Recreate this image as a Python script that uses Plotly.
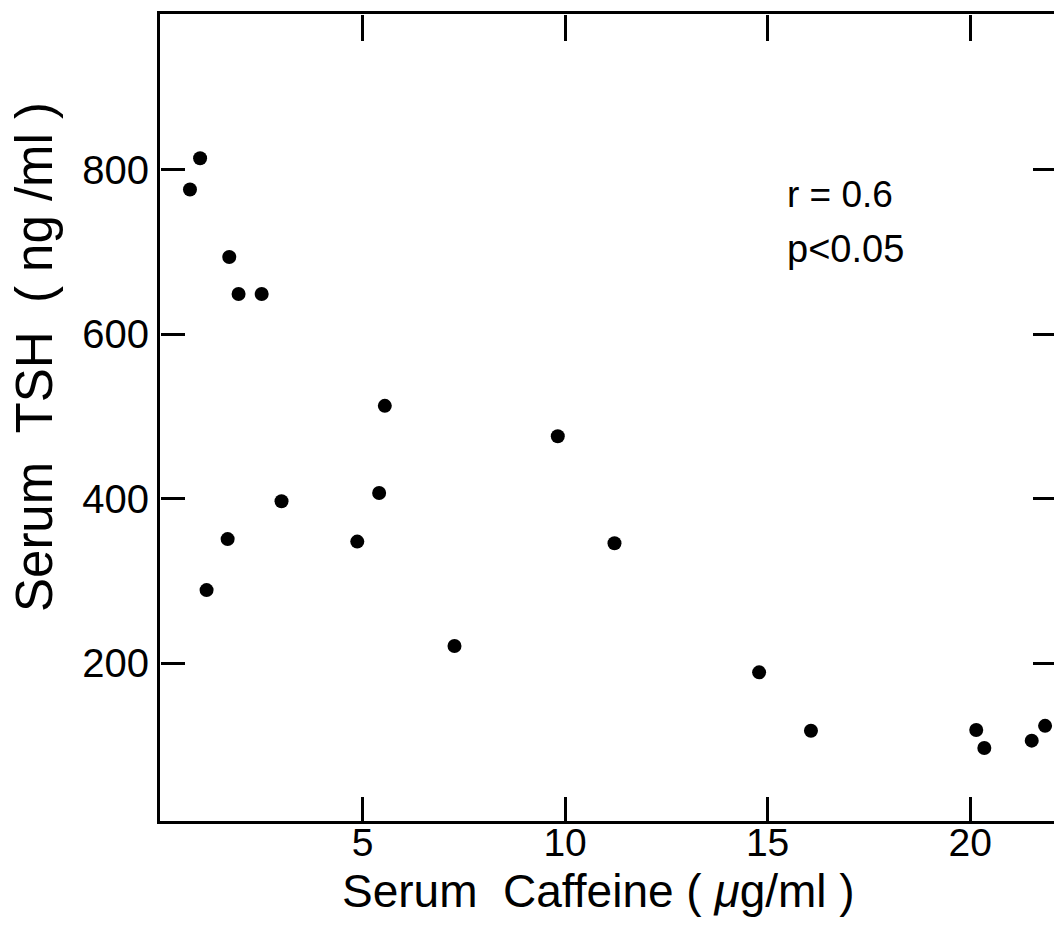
import plotly.graph_objects as go

# Serum caffeine (µg/ml) vs serum TSH (ng/ml)
caffeine = [0.74, 0.99, 1.71, 1.94, 2.51, 1.67, 1.15, 3.00, 4.87, 5.41,
            5.55, 7.27, 9.82, 11.22, 14.79, 16.07, 20.15, 20.35, 21.52, 21.85]
tsh = [776, 814, 694, 649, 649, 351, 289, 397, 348, 407,
       513, 221, 476, 346, 189, 118, 119, 97, 106, 124]

x_ticks = [5, 10, 15, 20]
y_ticks = [200, 400, 600, 800]
x_range = [0, 22.07]
y_range = [8.3, 989.4]

FONT = "Liberation Sans"
NB = "\u00a0"

fig = go.Figure()
fig.add_trace(go.Scatter(
    x=caffeine, y=tsh, mode="markers",
    marker=dict(size=14, color="#000000", line=dict(width=0)),
    showlegend=False, hoverinfo="x+y",
))
# empty traces that bring the tick-only frame axes into the subplot
for xa, ya in [("x2", "y"), ("x3", "y"), ("x", "y2"), ("x", "y3")]:
    fig.add_trace(go.Scatter(x=[], y=[], xaxis=xa, yaxis=ya, mode="markers",
                             showlegend=False, hoverinfo="skip"))

frame = dict(showgrid=False, zeroline=False, showline=True,
             linecolor="#000000", linewidth=3, mirror=True, ticks="",
             automargin=False, tickmode="array")
tick_axis = dict(showgrid=False, zeroline=False, showline=False,
                 showticklabels=False, ticks="outside", tickwidth=3,
                 tickcolor="#000000", anchor="free", automargin=False,
                 tickmode="array")

fig.update_layout(
    width=1054, height=942,
    margin=dict(l=160, r=0, t=14, b=121, autoexpand=False),
    paper_bgcolor="white", plot_bgcolor="white",
    xaxis=dict(frame, range=x_range, tickvals=x_ticks, ticklabelstandoff=-15,
               tickfont=dict(family=FONT, size=39, color="black")),
    yaxis=dict(frame, range=y_range, tickvals=y_ticks,
               tickfont=dict(family=FONT, size=40, color="black")),
    # inward ticks: bottom edge (pointing up) and top edge (pointing down)
    xaxis2=dict(tick_axis, overlaying="x", side="top", position=0,
                range=x_range, tickvals=x_ticks, ticklen=24),
    xaxis3=dict(tick_axis, overlaying="x", side="bottom", position=1,
                range=x_range, tickvals=x_ticks, ticklen=26),
    # inward ticks: left edge (pointing right) and right edge (pointing left)
    yaxis2=dict(tick_axis, overlaying="y", side="right", position=0,
                range=y_range, tickvals=y_ticks, ticklen=24),
    yaxis3=dict(tick_axis, overlaying="y", side="left", position=1,
                range=y_range, tickvals=y_ticks, ticklen=21),
)

annotations = [
    dict(text=f"Serum{NB}{NB}Caffeine{NB}({NB}<i>μ</i>g/ml{NB})",
         x=0.491, y=-0.087, xanchor="center", yanchor="middle",
         font=dict(family=FONT, size=46, color="black")),
    dict(text=f"Serum{NB}{NB}TSH{NB}{NB}({NB}ng{NB}/ml{NB})",
         x=-0.1398, y=0.575, xanchor="center", yanchor="middle", textangle=-90,
         font=dict(family=FONT, size=51, color="black")),
    dict(text="r = 0.6", x=0.699, y=0.776, xanchor="left", yanchor="middle",
         font=dict(family=FONT, size=37, color="black")),
    dict(text="p&lt;0.05", x=0.699, y=0.709, xanchor="left", yanchor="middle",
         font=dict(family=FONT, size=38, color="black")),
]
for a in annotations:
    fig.add_annotation(xref="paper", yref="paper", showarrow=False, **a)

fig.write_html("out.html")
